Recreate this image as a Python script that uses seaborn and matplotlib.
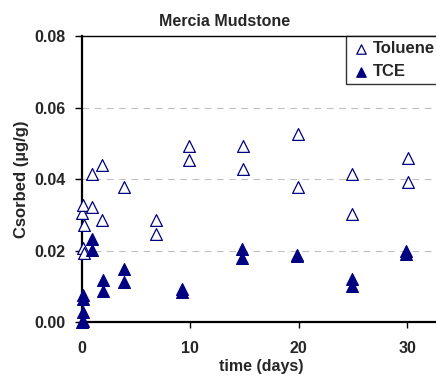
import seaborn as sns
import matplotlib.pyplot as plt
import pandas as pd

# values
tol_days = [0, 0.1, 0.15, 0.05, 0.2, 0.95, 0.95, 1.8, 1.8, 3.9, 6.8, 6.8,
            9.9, 9.9, 14.9, 14.9, 19.9, 19.9, 24.9, 24.9, 30.1, 30.1]
tol_csorbed = [0.0304, 0.0326, 0.027, 0.0208, 0.0192, 0.0414, 0.0323, 0.044, 0.0284, 0.0379, 0.0284, 0.0247,
               0.0492, 0.0452, 0.0492, 0.0428, 0.0526, 0.0379, 0.0414, 0.0303, 0.0458, 0.0393]

tce_days = [0.05, 0.05, 0.1, 0.0, 0.05, 0.95, 0.95, 1.9, 1.9, 3.9, 3.9,
            9.2, 9.2, 14.8, 14.8, 19.8, 19.8, 24.9, 24.9, 29.9, 29.9]
tce_csorbed = [0.0075, 0.0063, 0.0028, 0.0, 0.0002, 0.0233, 0.0202, 0.0117, 0.0087, 0.0149, 0.0112,
               0.0093, 0.0084, 0.0205, 0.0179, 0.0187, 0.0184, 0.0121, 0.0102, 0.0200, 0.0191]

tol_df = pd.DataFrame({'days': tol_days, 'csorbed': tol_csorbed})
tce_df = pd.DataFrame({'days': tce_days, 'csorbed': tce_csorbed})

sns.set_style('white')
plt.rcParams['font.family'] = ['Liberation Sans', 'DejaVu Sans']
navy = '#000080'

fig = plt.figure(figsize=(4.36, 3.79), dpi=100)
ax = fig.add_axes([0.1881, 0.1504, 0.820, 0.7546])

# dashed grid lines behind the points
for yv in [0.02, 0.04, 0.06]:
    ax.axhline(yv, color='#c0c0c0', linestyle=(0, (6, 5)), linewidth=0.8, zorder=0)

sns.scatterplot(data=tol_df, x='days', y='csorbed', marker='^', s=72,
                facecolor='white', edgecolor=navy, linewidth=0.9, label='Toluene', ax=ax,
                zorder=3, clip_on=False)
sns.scatterplot(data=tce_df, x='days', y='csorbed', marker='^', s=72,
                color=navy, edgecolor=navy, linewidth=0.9, label='TCE', ax=ax,
                zorder=3, clip_on=False)

ax.set_xlim(0, 33)
ax.set_ylim(0, 0.08)
ax.set_xticks([0, 10, 20, 30])
ax.set_yticks([0, 0.02, 0.04, 0.06, 0.08])
ax.set_yticklabels(['0.00', '0.02', '0.04', '0.06', '0.08'])

for sp in ax.spines.values():
    sp.set_color('black')
    sp.set_linewidth(1.0)
ax.spines['left'].set_linewidth(1.6)
ax.spines['bottom'].set_linewidth(1.6)

ax.tick_params(axis='y', direction='out', length=5, width=1, color='black',
               labelsize=11.5, pad=7, left=True)
ax.tick_params(axis='x', direction='out', length=4, width=1, color='black',
               labelsize=11.5, pad=10, bottom=True)
for lab in ax.get_xticklabels() + ax.get_yticklabels():
    lab.set_fontweight('bold')

fig.text(225 / 436, 1 - 26 / 379, 'Mercia Mudstone', fontsize=11.5, fontweight='bold',
         ha='center', va='baseline')
ax.set_xlabel('time (days)', fontsize=11.5, fontweight='bold', labelpad=2)
ax.set_ylabel('Csorbed (µg/g)', fontsize=12, fontweight='bold')
ax.yaxis.set_label_coords(-0.149, 0.5)

leg = ax.legend(loc='upper right', frameon=True, fancybox=False, edgecolor='black',
                borderaxespad=0, handletextpad=0.1, handlelength=1.2, markerscale=0.8,
                prop={'weight': 'bold', 'size': 12}, borderpad=0.3, labelspacing=0.5)
leg.get_frame().set_linewidth(1.0)

fig.savefig('out.png', dpi=100)
